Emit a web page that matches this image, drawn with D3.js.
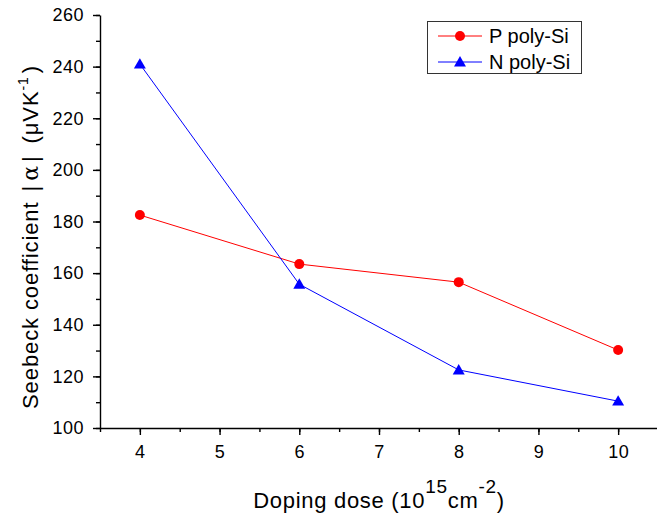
<!DOCTYPE html>
<html>
<head>
<meta charset="utf-8">
<script src="https://cdn.jsdelivr.net/npm/d3@7"></script>
<style>
body { margin: 0; background: #fff; }
text { font-family: "Liberation Sans", Arial, sans-serif; }
</style>
</head>
<body>
<div id="chart"></div>
<script>
var doses = [4, 6, 8, 10];
var pPoly = [182.5, 163.5, 156.5, 130.2];
var nPoly = [241, 155.7, 122.5, 110.4];
var xTicks = [4, 5, 6, 7, 8, 9, 10];
var yTicks = [100, 120, 140, 160, 180, 200, 220, 240, 260];
var seriesNames = ["P poly-Si", "N poly-Si"];

var svgwidth = 657, svgheight = 517;
var svg = d3.select("#chart").append("svg")
    .attr("width", svgwidth)
    .attr("height", svgheight);

var xScale = d3.scaleLinear().domain([3.5, 10.5]).range([100, 658]);
var yScale = d3.scaleLinear().domain([100, 260]).range([428, 15]);

// minor ticks
var xMinor = d3.range(3.5, 10.51, 0.5);
var yMinor = d3.range(100, 260.1, 10);

svg.append("g")
    .attr("transform", "translate(0,428)")
    .call(d3.axisBottom(xScale).tickValues(xMinor).tickSize(4).tickFormat(""))
    .call(g => g.select(".domain").remove());

svg.append("g")
    .attr("transform", "translate(100,0)")
    .call(d3.axisLeft(yScale).tickValues(yMinor).tickSize(4).tickFormat(""))
    .call(g => g.select(".domain").remove());

var xAxis = svg.append("g")
    .attr("transform", "translate(0,428)")
    .call(d3.axisBottom(xScale).tickValues(xTicks).tickFormat(d3.format("d"))
        .tickSize(7).tickPadding(10).tickSizeOuter(0));

var yAxis = svg.append("g")
    .attr("transform", "translate(100,0)")
    .call(d3.axisLeft(yScale).tickValues(yTicks).tickFormat(d3.format("d"))
        .tickSize(7).tickPadding(9).tickSizeOuter(0));

svg.selectAll(".tick text")
    .attr("font-size", 18).attr("fill", "#000")
    .style("font-family", "Liberation Sans, Arial, sans-serif")
    .style("letter-spacing", "0.5px");

svg.selectAll(".domain, .tick line").attr("stroke", "#000").attr("stroke-width", 1.4);

// lines
var pData = doses.map((d, i) => ({x: d, y: pPoly[i]}));
var nData = doses.map((d, i) => ({x: d, y: nPoly[i]}));
var line = d3.line().x(d => xScale(d.x)).y(d => yScale(d.y));

svg.append("path").datum(pData).attr("d", line)
    .attr("fill", "none").attr("stroke", "#ff0000").attr("stroke-width", 1);
svg.append("path").datum(nData).attr("d", line)
    .attr("fill", "none").attr("stroke", "#0000ff").attr("stroke-width", 1);

svg.selectAll(".pdot").data(pData).enter().append("circle")
    .attr("cx", d => xScale(d.x)).attr("cy", d => yScale(d.y))
    .attr("r", 5).attr("fill", "#ff0000");

var tri = d3.symbol().type(d3.symbolTriangle).size(62);
svg.selectAll(".ntri").data(nData).enter().append("path")
    .attr("d", tri)
    .attr("transform", d => "translate(" + xScale(d.x) + "," + (yScale(d.y) + 1) + ")")
    .attr("fill", "#0000ff");

// legend
var lg = svg.append("g");
lg.append("rect").attr("x", 427.5).attr("y", 21.5).attr("width", 154).attr("height", 52)
    .attr("fill", "#fff").attr("stroke", "#333").attr("stroke-width", 1);
var lgColors = ["#ff0000", "#0000ff"];
seriesNames.forEach(function(name, i) {
    var yy = 36 + i * 26;
    lg.append("line").attr("x1", 438).attr("x2", 482).attr("y1", yy).attr("y2", yy)
        .attr("stroke", lgColors[i]).attr("stroke-width", 1);
    if (i === 0) {
        lg.append("circle").attr("cx", 460).attr("cy", yy).attr("r", 5).attr("fill", lgColors[i]);
    } else {
        lg.append("path").attr("d", tri).attr("transform", "translate(460," + (yy + 1) + ")")
            .attr("fill", lgColors[i]);
    }
    lg.append("text").attr("x", 489).attr("y", yy + 7).attr("font-size", 20)
        .attr("fill", "#000").text(name);
});

// axis titles
var xt = svg.append("text").attr("x", 379).attr("y", 508).attr("text-anchor", "middle")
    .attr("font-size", 22).attr("fill", "#000").style("letter-spacing", "0.7px");
xt.append("tspan").text("Doping dose (10");
xt.append("tspan").attr("dy", -15).attr("font-size", 19).text("15");
xt.append("tspan").attr("dy", 15).text("cm");
xt.append("tspan").attr("dy", -15).attr("font-size", 19).text("-2");
xt.append("tspan").attr("dy", 15).text(")");

var yt = svg.append("text").attr("transform", "translate(38,237) rotate(-90)")
    .attr("text-anchor", "middle").attr("font-size", 22).attr("fill", "#000")
    .style("letter-spacing", "0.9px");
yt.append("tspan").text("Seebeck coefficient");
yt.append("tspan").attr("dx", 10).text("|");
yt.append("tspan").attr("dx", 4).style("font-family", "DejaVu Serif, serif").text("α");
yt.append("tspan").attr("dx", 3).text("|");
yt.append("tspan").attr("dx", 12).text("(μVK");
yt.append("tspan").attr("dy", -10).attr("font-size", 14).text("-1");
yt.append("tspan").attr("dy", 10).attr("dx", 3).text(")");
</script>
</body>
</html>
